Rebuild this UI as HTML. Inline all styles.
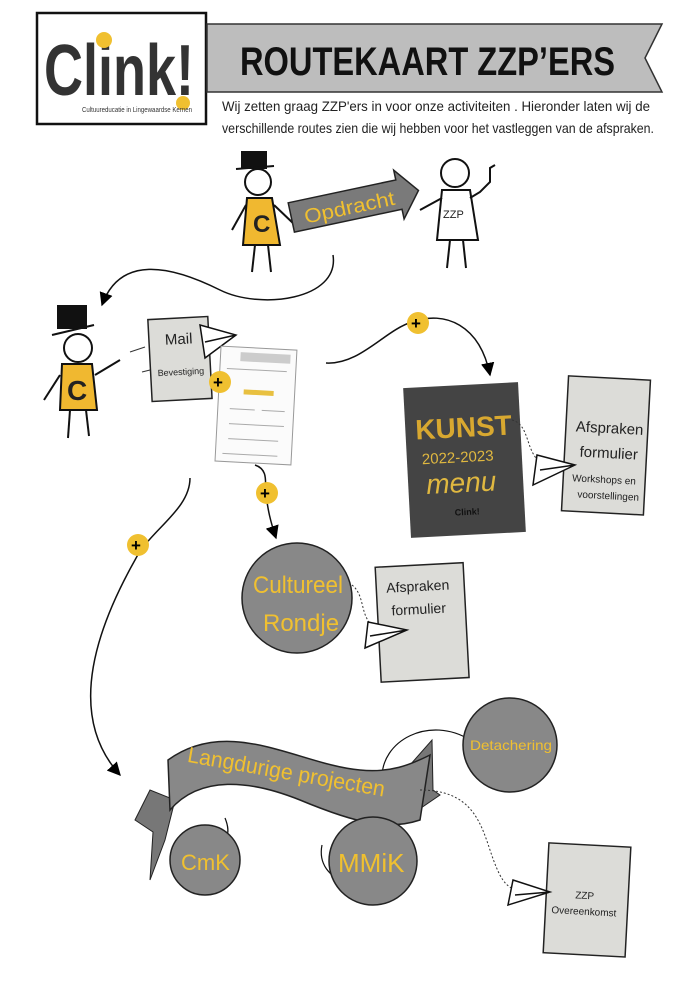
<!DOCTYPE html>
<html><head><meta charset="utf-8"><style>
html,body{margin:0;padding:0;background:#fff;}
svg{display:block;}
text{font-family:"Liberation Sans",sans-serif;}
</style></head><body>
<svg width="700" height="990" viewBox="0 0 700 990" xmlns="http://www.w3.org/2000/svg">
<defs>
<marker id="ah" viewBox="0 0 10 10" refX="9" refY="5" markerWidth="9" markerHeight="9" orient="auto-start-reverse"><path d="M0,0 L10,5 L0,10 z" fill="#000"/></marker>
</defs>
<!-- Logo -->
<rect x="37" y="13" width="169" height="111" fill="#fff" stroke="#111" stroke-width="2.5"/>
<text x="44" y="95" font-size="72" font-weight="bold" fill="#333" textLength="150" lengthAdjust="spacingAndGlyphs">Clink!</text>
<circle cx="104" cy="40" r="8" fill="#f0c030"/>
<circle cx="183" cy="103" r="7" fill="#f0c030"/>
<text x="82" y="112" font-size="7" fill="#333" textLength="110" lengthAdjust="spacingAndGlyphs">Cultuureducatie in Lingewaardse Kernen</text>
<!-- Title banner -->
<polygon points="207,24 662,24 645,58 662,92 207,92" fill="#bdbdbd" stroke="#333" stroke-width="1.5"/>
<text x="240" y="75" font-size="40" font-weight="bold" fill="#111" textLength="375" lengthAdjust="spacingAndGlyphs">ROUTEKAART  ZZP’ERS</text>
<text x="222" y="111" font-size="14" fill="#222" textLength="428" lengthAdjust="spacingAndGlyphs">Wij zetten graag ZZP'ers in voor onze activiteiten . Hieronder laten wij de</text>
<text x="222" y="133" font-size="14" fill="#222" textLength="432" lengthAdjust="spacingAndGlyphs">verschillende routes zien die wij hebben voor het vastleggen van de afspraken.</text>

<!-- Figure 1 -->
<g stroke="#111" stroke-width="2" fill="none">
<rect x="242" y="152" width="24" height="16" fill="#111"/><line x1="236" y1="169" x2="274" y2="166"/>
<circle cx="258" cy="182" r="13" fill="#fff"/>
<path d="M247,198 L272,198 L280,245 L243,245 Z" fill="#f0b830"/>
<line x1="255" y1="245" x2="252" y2="272"/><line x1="268" y1="245" x2="271" y2="272"/>
<path d="M246,205 L232,230"/><path d="M274,205 L295,225"/>
</g>
<text x="253" y="232" font-size="24" font-weight="bold" fill="#222">C</text>
<!-- Opdracht arrow -->
<g transform="rotate(-12 350 205)">
<polygon points="290,190 400,190 400,180 420,205 400,230 400,220 290,220" fill="#7a7a7a" stroke="#222" stroke-width="1.5"/>
<text x="303" y="214" font-size="20" fill="#f0c030" textLength="92" lengthAdjust="spacingAndGlyphs">Opdracht</text>
</g>
<!-- ZZP figure -->
<g stroke="#111" stroke-width="2" fill="none">
<circle cx="455" cy="173" r="14" fill="#fff"/>
<path d="M442,190 L470,190 L478,240 L437,240 Z" fill="#fff"/>
<line x1="450" y1="240" x2="447" y2="268"/><line x1="463" y1="240" x2="466" y2="268"/>
<path d="M442,198 L420,210"/><path d="M470,198 L480,192 L490,182 L490,168 L495,165"/>
</g>
<text x="443" y="218" font-size="11" fill="#222">ZZP</text>

<!-- curve to figure 2 -->
<path d="M333,255 C340,300 260,310 220,290 C170,265 120,255 102,305" stroke="#111" stroke-width="1.5" fill="none" marker-end="url(#ah)"/>

<!-- Figure 2 -->
<g stroke="#111" stroke-width="2" fill="none">
<rect x="58" y="306" width="28" height="22" fill="#111"/><line x1="52" y1="335" x2="94" y2="325"/>
<circle cx="78" cy="348" r="14" fill="#fff"/>
<path d="M62,364 L92,364 L97,410 L60,410 Z" fill="#f0b830"/>
<line x1="70" y1="410" x2="68" y2="438"/><line x1="86" y1="410" x2="89" y2="436"/>
<path d="M60,375 L44,400"/><path d="M95,375 L120,360"/>
</g>
<text x="67" y="400" font-size="28" font-weight="bold" fill="#222">C</text>
<line x1="130" y1="352" x2="145" y2="347" stroke="#333"/><line x1="142" y1="372" x2="150" y2="370" stroke="#333"/>
<!-- Mail card -->
<g transform="rotate(-3 180 360)">
<rect x="150" y="318" width="60" height="82" fill="#dcdcd8" stroke="#222" stroke-width="1.5"/>
<text x="166" y="344" font-size="15" fill="#222">Mail</text>
<text x="157" y="375" font-size="9" fill="#222">Bevestiging</text>
</g>
<path d="M200,325 L236,335 L205,358 Z M205,342 L236,335" stroke="#111" stroke-width="1.5" fill="#fff"/>
<!-- voorwaarden doc -->
<g transform="rotate(3 255 405)">
<rect x="218" y="348" width="76" height="115" fill="#fbfbfb" stroke="#999"/>
<rect x="238" y="353" width="50" height="9" fill="#ccc"/>
<rect x="243" y="390" width="30" height="5" fill="#e8c040"/>
<g stroke="#aaa" stroke-width="1"><line x1="225" y1="370" x2="285" y2="370"/><line x1="230" y1="410" x2="255" y2="410"/><line x1="262" y1="410" x2="285" y2="410"/><line x1="230" y1="425" x2="285" y2="425"/><line x1="230" y1="440" x2="280" y2="440"/><line x1="225" y1="455" x2="280" y2="455"/></g>
</g>
<circle cx="220" cy="382" r="11" fill="#f0c030"/><text x="213" y="388" font-size="17" font-weight="bold">+</text>

<!-- curve to Kunstmenu -->
<path d="M326,363 C360,365 385,330 412,322 C445,310 480,325 490,375" stroke="#111" stroke-width="1.5" fill="none" marker-end="url(#ah)"/>
<circle cx="418" cy="323" r="11" fill="#f0c030"/><text x="411" y="329" font-size="17" font-weight="bold">+</text>
<!-- Kunstmenu poster -->
<g transform="rotate(-3 465 460)">
<rect x="407" y="385" width="115" height="150" fill="#444"/>
<text x="417" y="437" font-size="28" font-weight="bold" fill="#d8a830">KUNST</text>
<text x="422" y="462" font-size="15" fill="#e0b840">2022-2023</text>
<text x="425" y="492" font-size="28" font-style="italic" fill="#e0b840">menu</text>
<text x="452" y="515" font-size="9" fill="#111" font-weight="bold">Clink!</text>
</g>
<!-- Afspraken card 1 -->
<g transform="rotate(3 607 445)">
<rect x="565" y="378" width="82" height="135" fill="#dcdcd8" stroke="#222" stroke-width="1.5"/>
<text x="575" y="433" font-size="15" fill="#222">Afspraken</text>
<text x="580" y="458" font-size="15" fill="#222">formulier</text>
<text x="574" y="483" font-size="10" fill="#222">Workshops en</text>
<text x="580" y="499" font-size="10" fill="#222">voorstellingen</text>
</g>
<path d="M512,420 C530,425 525,450 540,462" stroke="#333" stroke-dasharray="2,2" fill="none"/>
<path d="M537,455 L575,465 L533,485 Z M540,470 L575,465" stroke="#111" stroke-width="1.5" fill="#fff"/>

<!-- curve to Cultureel -->
<path d="M255,465 C270,470 264,485 266,495 C268,510 270,520 276,538" stroke="#111" stroke-width="1.5" fill="none" marker-end="url(#ah)"/>
<circle cx="267" cy="493" r="11" fill="#f0c030"/><text x="260" y="499" font-size="17" font-weight="bold">+</text>
<circle cx="297" cy="598" r="55" fill="#888" stroke="#222" stroke-width="1.5"/>
<text x="253" y="593" font-size="24" fill="#f0c030" textLength="90" lengthAdjust="spacingAndGlyphs">Cultureel</text>
<text x="263" y="631" font-size="24" fill="#f0c030">Rondje</text>
<g transform="rotate(-3 420 620)">
<rect x="378" y="565" width="88" height="115" fill="#dcdcd8" stroke="#222" stroke-width="1.5"/>
<text x="388" y="591" font-size="14" fill="#222">Afspraken</text>
<text x="392" y="614" font-size="14" fill="#222">formulier</text>
</g>
<path d="M352,585 C365,595 360,615 372,625" stroke="#333" stroke-dasharray="2,2" fill="none"/>
<path d="M368,622 L407,630 L365,648 Z M370,636 L407,630" stroke="#111" stroke-width="1.5" fill="#fff"/>

<!-- left long curve -->
<path d="M190,478 C190,510 150,530 135,560 C90,640 70,720 120,775" stroke="#111" stroke-width="1.5" fill="none" marker-end="url(#ah)"/>
<circle cx="138" cy="545" r="11" fill="#f0c030"/><text x="131" y="551" font-size="17" font-weight="bold">+</text>

<!-- connectors from banner -->
<path d="M225,818 C232,835 225,845 215,838" stroke="#111" fill="none" stroke-width="1.2"/>
<path d="M322,845 C318,865 330,875 345,885" stroke="#111" fill="none" stroke-width="1.2"/>
<path d="M382,780 C380,740 430,715 470,740" stroke="#111" fill="none" stroke-width="1.2"/>
<!-- Langdurige banner -->
<path d="M150,790 L135,820 L153,832 L150,880 L165,840 L175,800 Z" fill="#777" stroke="#222"/>
<path d="M410,765 L432,740 L433,790 L440,795 L418,810 Z" fill="#777" stroke="#222"/>
<path d="M168,760 C230,715 300,765 360,770 C390,773 410,765 430,755 L420,820 C390,830 360,825 300,800 C250,780 200,775 170,810 Z" fill="#888" stroke="#222" stroke-width="1.5"/>
<text x="185" y="780" font-size="22" fill="#f0c030" transform="rotate(10 290 780)" textLength="200" lengthAdjust="spacingAndGlyphs">Langdurige projecten</text>
<!-- Detachering -->
<circle cx="510" cy="745" r="47" fill="#888" stroke="#222" stroke-width="1.5"/>
<text x="470" y="750" font-size="14" fill="#f0c030" textLength="82" lengthAdjust="spacingAndGlyphs">Detachering</text>
<!-- CmK -->
<circle cx="205" cy="860" r="35" fill="#888" stroke="#222" stroke-width="1.5"/>
<text x="181" y="870" font-size="22" fill="#f0c030">CmK</text>
<!-- MMiK -->
<circle cx="373" cy="861" r="44" fill="#888" stroke="#222" stroke-width="1.5"/>
<text x="338" y="872" font-size="26" fill="#f0c030">MMiK</text>
<!-- ZZP Overeenkomst -->
<path d="M420,790 C470,790 480,820 490,850 C500,880 505,885 515,890" stroke="#333" stroke-dasharray="2,2" fill="none"/>
<g transform="rotate(3 588 900)">
<rect x="546" y="845" width="82" height="110" fill="#dcdcd8" stroke="#222" stroke-width="1.5"/>
<text x="575" y="899" font-size="10" fill="#222">ZZP</text>
<text x="552" y="915" font-size="10" fill="#222">Overeenkomst</text>
</g>
<path d="M513,880 L550,892 L508,905 Z M515,895 L550,892" stroke="#111" stroke-width="1.5" fill="#fff"/>
</svg>
</body></html>
